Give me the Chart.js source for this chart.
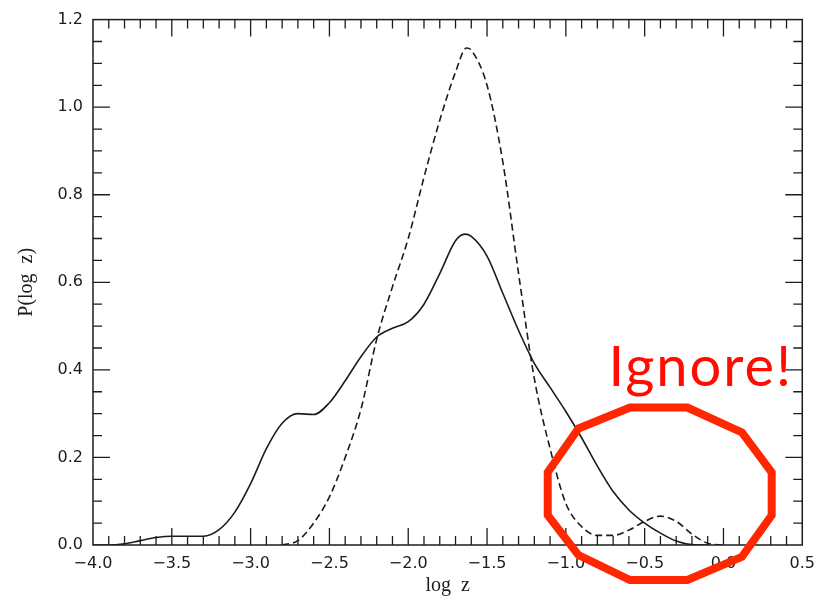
<!DOCTYPE html>
<html>
<head>
<meta charset="utf-8">
<title>P(log z)</title>
<script src="https://cdn.jsdelivr.net/npm/chart.js@4/dist/chart.umd.min.js"></script>
<style>
    html, body { margin: 0; padding: 0; background: #fff; }
    #wrap { width: 824px; height: 599px; }
</style>
</head>
<body>
<div id="wrap"><canvas id="chart" width="824" height="599"></canvas></div>
<script>
// values
const solidLogZ = [-4.0, -3.9, -3.8, -3.7, -3.6, -3.5, -3.4, -3.3, -3.2, -3.1, -3.0, -2.9, -2.8, -2.7, -2.6,
    -2.5, -2.4, -2.3, -2.2, -2.1, -2.0, -1.9, -1.8, -1.7, -1.64, -1.6, -1.5, -1.4, -1.3, -1.2, -1.1, -1.0,
    -0.9, -0.8, -0.7, -0.6, -0.5, -0.4, -0.3, -0.2, -0.1];
const solidP = [0, 0, 0.003, 0.01, 0.017, 0.02, 0.02, 0.02, 0.035, 0.075, 0.14, 0.22, 0.278, 0.3, 0.298,
    0.325, 0.375, 0.43, 0.475, 0.495, 0.51, 0.55, 0.62, 0.695, 0.71, 0.705, 0.66, 0.575, 0.49, 0.415, 0.36, 0.305,
    0.245, 0.18, 0.122, 0.08, 0.05, 0.027, 0.009, 0.001, 0];

const dashedLogZ = [-2.8, -2.7, -2.6, -2.5, -2.4, -2.3, -2.2, -2.1, -2.0, -1.9, -1.8, -1.7, -1.63, -1.6, -1.5,
    -1.4, -1.3, -1.2, -1.1, -1.0, -0.9, -0.8, -0.7, -0.6, -0.5, -0.4, -0.3, -0.2, -0.1, 0.0];
const dashedP = [0, 0.01, 0.05, 0.11, 0.2, 0.31, 0.47, 0.59, 0.7, 0.84, 0.97, 1.08, 1.135, 1.13, 1.05,
    0.875, 0.62, 0.38, 0.22, 0.095, 0.042, 0.022, 0.022, 0.034, 0.054, 0.066, 0.054, 0.025, 0.004, 0];

const xTicks = [-4.0, -3.5, -3.0, -2.5, -2.0, -1.5, -1.0, -0.5, 0.0, 0.5];
const yTicks = [0.0, 0.2, 0.4, 0.6, 0.8, 1.0, 1.2];

// red "ignore" marking, in data units
const ignoreRingX = [-0.92, -0.593, -0.229, 0.117, 0.306, 0.306, 0.117, -0.229, -0.593, -0.92, -1.115, -1.115];
const ignoreRingY = [0.266, 0.314, 0.314, 0.257, 0.166, 0.068, -0.027, -0.08, -0.08, -0.023, 0.068, 0.166];
const ignoreLabel = { text: 'Ignore!', x: -0.73, y: 0.364 };

const toPoints = (xs, ys) => xs.map((v, i) => ({ x: v, y: ys[i] }));
const fmt = v => v.toFixed(1).replace('-', '\u2212');

const ink = '#1c1c1c';
const tickFont = { family: 'DejaVu Sans', size: 16 };
const titleFont = { family: 'Liberation Serif', size: 20 };

// box with inward ticks on all four sides
const frameTicks = {
    id: 'frameTicks',
    afterDatasetsDraw(chart) {
        const { ctx, chartArea: a, scales: { x, y } } = chart;
        ctx.save();
        ctx.strokeStyle = ink;
        ctx.lineWidth = 1.5;
        ctx.strokeRect(a.left, a.top, a.right - a.left, a.bottom - a.top);
        ctx.lineWidth = 1.3;
        ctx.beginPath();
        for (let i = 1; i < 45; i++) {
            const px = x.getPixelForValue(-4 + i * 0.1);
            const len = i % 5 === 0 ? 17 : 9;
            ctx.moveTo(px, a.bottom); ctx.lineTo(px, a.bottom - len);
            ctx.moveTo(px, a.top); ctx.lineTo(px, a.top + len);
        }
        for (let i = 1; i < 24; i++) {
            const py = y.getPixelForValue(i * 0.05);
            const len = i % 4 === 0 ? 17 : 9;
            ctx.moveTo(a.left, py); ctx.lineTo(a.left + len, py);
            ctx.moveTo(a.right, py); ctx.lineTo(a.right - len, py);
        }
        ctx.stroke();
        ctx.restore();
    }
};

const ignoreMark = {
    id: 'ignoreMark',
    afterDraw(chart) {
        const { ctx, scales: { x, y } } = chart;
        ctx.save();
        ctx.strokeStyle = '#ff2600';
        ctx.lineWidth = 8;
        ctx.lineJoin = 'miter';
        ctx.beginPath();
        ignoreRingX.forEach((v, i) => {
            const px = x.getPixelForValue(v), py = y.getPixelForValue(ignoreRingY[i]);
            if (i === 0) ctx.moveTo(px, py); else ctx.lineTo(px, py);
        });
        ctx.closePath();
        ctx.stroke();

        ctx.fillStyle = '#ff0d00';
        ctx.font = '56px Lato';
        ctx.letterSpacing = '2px';
        ctx.textBaseline = 'alphabetic';
        ctx.fillText(ignoreLabel.text, x.getPixelForValue(ignoreLabel.x), y.getPixelForValue(ignoreLabel.y));
        ctx.restore();
    }
};

new Chart(document.getElementById('chart'), {
    type: 'scatter',
    data: {
        datasets: [{
            label: 'solid',
            data: toPoints(solidLogZ, solidP),
            showLine: true,
            borderColor: ink,
            borderWidth: 1.6,
            pointRadius: 0,
            cubicInterpolationMode: 'monotone'
        }, {
            label: 'dashed',
            data: toPoints(dashedLogZ, dashedP),
            showLine: true,
            borderColor: ink,
            borderWidth: 1.6,
            borderDash: [7, 4],
            pointRadius: 0,
            cubicInterpolationMode: 'monotone'
        }]
    },
    options: {
        responsive: false,
        animation: false,
        layout: { padding: { top: 16, right: 15, left: 0, bottom: 0 } },
        plugins: {
            legend: { display: false },
            tooltip: { enabled: false }
        },
        scales: {
            x: {
                type: 'linear',
                min: -4,
                max: 0.5,
                afterFit: s => { s.height = 54; },
                afterBuildTicks: s => { s.ticks = xTicks.map(v => ({ value: v })); },
                grid: { display: false, drawTicks: false },
                border: { display: false },
                ticks: {
                    padding: 9,
                    color: ink,
                    font: tickFont,
                    maxRotation: 0,
                    autoSkip: false,
                    callback: v => fmt(v)
                },
                title: {
                    display: true,
                    text: 'log  z',
                    color: ink,
                    font: titleFont,
                    padding: { top: 0, bottom: 1 }
                }
            },
            y: {
                min: 0,
                max: 1.2,
                afterFit: s => { s.width = 93; },
                afterBuildTicks: s => { s.ticks = yTicks.map(v => ({ value: v })); },
                grid: { display: false, drawTicks: false },
                border: { display: false },
                ticks: {
                    padding: 10,
                    color: ink,
                    font: tickFont,
                    autoSkip: false,
                    callback: v => fmt(v)
                },
                title: {
                    display: true,
                    text: 'P(log  z)',
                    color: ink,
                    font: titleFont,
                    padding: { top: 15, bottom: 0 }
                }
            }
        }
    },
    plugins: [frameTicks, ignoreMark]
});
</script>
</body>
</html>
